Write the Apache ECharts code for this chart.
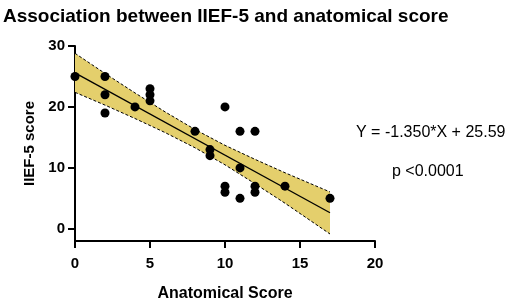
<!DOCTYPE html>
<html>
<head>
<meta charset="utf-8">
<script src="https://cdn.jsdelivr.net/npm/echarts@6/dist/echarts.min.js"></script>
<style>
html,body{margin:0;padding:0;background:#fff}
#chart{width:510px;height:307px}
</style>
</head>
<body>
<div id="chart"></div>
<script>
// data
var anatomicalScore = [0, 2, 2, 2, 4, 5, 5, 5, 8, 9, 9, 10, 10, 10, 11, 11, 11, 12, 12, 12, 14, 17];
var iiefScore       = [25, 25, 22, 19, 20, 23, 22, 21, 16, 13, 12, 20, 7, 6, 16, 10, 5, 16, 7, 6, 7, 5];

// 95% confidence band edges
var bandX     = [0, 2, 4, 6, 8, 10, 12, 14, 17];
var bandUpper = [28.8, 25.5, 22.3, 19.2, 16.3, 13.7, 11.4, 9.2, 6.05];
var bandLower = [22.4, 20.3, 18.1, 15.8, 13.3, 10.5, 7.4, 4.2, -0.85];

// fitted line, Y = -1.350*X + 25.59
var fitSlope = -1.350;
var fitIntercept = 25.59;
var fitX = [0, 17];

var yTicks = [0, 10, 20, 30];

var FONT = '"Liberation Sans", Arial, sans-serif';

function pairs(xs, ys) {
    return xs.map(function (x, i) { return [x, ys[i]]; });
}

function initChart() {
    var chart = echarts.init(document.getElementById('chart'), null, {renderer: 'canvas'});
    var points = pairs(anatomicalScore, iiefScore);
    var upper = pairs(bandX, bandUpper);
    var lower = pairs(bandX, bandLower);
    var fit = fitX.map(function (x) { return [x, fitIntercept + fitSlope * x]; });
    var bandPoly = upper.concat(lower.slice().reverse());

    var option = {
        animation: false,
        backgroundColor: '#fff',
        title: {
            text: 'Association between IIEF-5 and anatomical score',
            left: 3,
            top: 7,
            padding: 0,
            textStyle: {fontFamily: FONT, fontWeight: 'bold', fontSize: 19, color: '#000'}
        },
        grid: {left: 75, right: 135, top: 46, bottom: 61, containLabel: false},
        xAxis: {
            type: 'value',
            min: 0,
            max: 20,
            interval: 5,
            name: 'Anatomical Score',
            nameLocation: 'middle',
            nameGap: 45,
            nameTextStyle: {fontFamily: FONT, fontWeight: 'bold', fontSize: 16, color: '#000'},
            axisLine: {show: true, onZero: false, lineStyle: {color: '#000', width: 2}},
            axisTick: {show: true, length: 7, lineStyle: {color: '#000', width: 2}},
            axisLabel: {color: '#000', fontFamily: FONT, fontWeight: 'bold', fontSize: 15, margin: 15},
            splitLine: {show: false}
        },
        yAxis: {
            type: 'value',
            min: -2,
            max: 30,
            name: 'IIEF-5 score',
            nameLocation: 'middle',
            nameGap: 38,
            nameTextStyle: {fontFamily: FONT, fontWeight: 'bold', fontSize: 15, color: '#000'},
            axisLine: {show: true, onZero: false, lineStyle: {color: '#000', width: 2}},
            axisTick: {show: true, length: 7, customValues: yTicks, lineStyle: {color: '#000', width: 2}},
            axisLabel: {customValues: yTicks, color: '#000', fontFamily: FONT, fontWeight: 'bold', fontSize: 15, margin: 10},
            splitLine: {show: false}
        },
        graphic: [
            {type: 'text', left: 356, top: 125,
             style: {text: 'Y = -1.350*X + 25.59', fontFamily: FONT, fontSize: 16, fill: '#000'}},
            {type: 'text', left: 392, top: 164,
             style: {text: 'p <0.0001', fontFamily: FONT, fontSize: 16, fill: '#000'}}
        ],
        series: [
            {
                type: 'custom',
                name: 'band',
                z: 1,
                silent: true,
                data: [0],
                renderItem: function (params, api) {
                    var pts = bandPoly.map(function (p) { return api.coord(p); });
                    return {
                        type: 'polygon',
                        shape: {points: pts},
                        style: {fill: '#e4cf6c', stroke: null}
                    };
                }
            },
            {
                type: 'line', name: 'upper', z: 2, data: upper, symbol: 'none', silent: true,
                lineStyle: {color: '#000', width: 1, type: [3, 2]}
            },
            {
                type: 'line', name: 'lower', z: 2, data: lower, symbol: 'none', silent: true,
                lineStyle: {color: '#000', width: 1, type: [3, 2]}
            },
            {
                type: 'line', name: 'fit', z: 3, data: fit, symbol: 'none', silent: true,
                lineStyle: {color: '#000', width: 1.3}
            },
            {
                type: 'scatter', name: 'patients', z: 4, data: points,
                symbol: 'circle', symbolSize: 9,
                itemStyle: {color: '#000', opacity: 1}
            }
        ]
    };
    chart.setOption(option);
}

initChart();
</script>
</body>
</html>
